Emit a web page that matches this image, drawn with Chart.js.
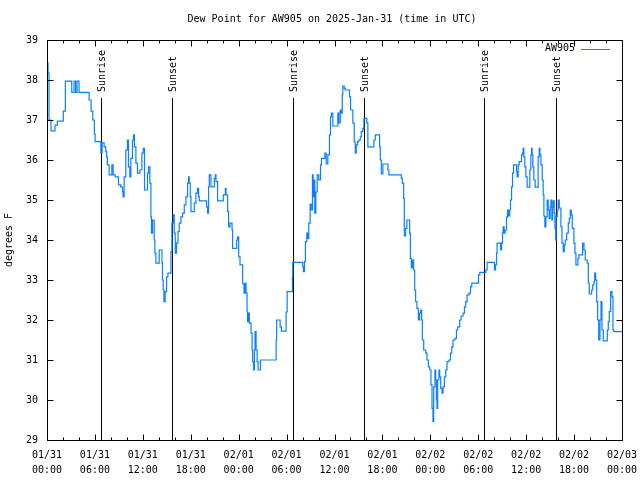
<!DOCTYPE html>
<html>
<head>
<meta charset="utf-8">
<script src="https://cdn.jsdelivr.net/npm/chart.js@4/dist/chart.umd.min.js"></script>
<style>
  html, body { margin: 0; padding: 0; background: #fff; }
</style>
</head>
<body>
<canvas id="myChart" width="640" height="480"></canvas>
<script>
// hours since 2025-01-31 00:00 UTC
const hours = [
    0.00, 0.13, 0.25, 0.50, 1.00, 1.29, 2.04, 2.30, 3.10, 3.39, 3.58, 3.76, 4.01, 5.27, 5.52, 5.73, 5.93, 6.02,
    6.74, 6.90, 7.15, 7.36, 7.46, 7.56, 7.78, 8.12, 8.28, 8.53, 8.95, 9.24, 9.45, 9.53, 9.66, 9.87, 10.07, 10.20,
    10.37, 10.50, 10.70, 10.83, 10.95, 11.13, 11.33, 11.63, 11.88, 12.04, 12.21, 12.58, 12.71, 12.88, 13.01, 13.08,
    13.21, 13.42, 13.51, 13.64, 14.05, 14.39, 14.46, 14.55, 14.64, 14.80, 14.97, 15.14, 15.52, 15.64, 15.81, 15.93,
    16.06, 16.22, 16.40, 16.56, 16.77, 16.97, 17.19, 17.40, 17.60, 17.73, 17.81, 17.94, 18.03, 18.44, 18.65, 18.85,
    18.98, 19.07, 19.98, 20.11, 20.23, 20.32, 20.53, 20.95, 21.07, 21.16, 21.36, 22.08, 22.33, 22.42, 22.62, 22.74,
    22.92, 23.17, 23.24, 23.75, 23.87, 24.00, 24.17, 24.50, 24.67, 24.80, 24.92, 25.05, 25.12, 25.25, 25.34, 25.55,
    25.68, 25.75, 25.88, 25.97, 26.05, 26.18, 26.31, 26.43, 26.72, 28.69, 28.76, 29.19, 29.35, 29.94, 30.07, 30.73,
    30.77, 32.03, 32.11, 32.24, 32.36, 32.53, 32.65, 32.78, 32.95, 33.08, 33.24, 33.33, 33.41, 33.53, 33.66, 33.83,
    34.03, 34.25, 34.37, 34.75, 34.79, 34.96, 35.16, 35.37, 35.50, 35.62, 35.79, 36.21, 36.42, 36.54, 36.72, 36.84,
    36.97, 37.04, 37.22, 37.34, 37.88, 38.01, 38.30, 38.47, 38.60, 38.72, 38.89, 39.05, 39.23, 39.35, 39.55, 39.68,
    40.05, 40.18, 40.93, 41.11, 41.65, 41.73, 41.86, 42.06, 42.69, 42.81, 44.37, 44.49, 44.66, 44.74, 44.91, 45.07,
    45.41, 45.50, 45.62, 45.75, 45.91, 46.04, 46.16, 46.32, 46.50, 46.66, 46.79, 46.91, 47.00, 47.17, 47.42, 47.58,
    47.76, 47.92, 48.08, 48.21, 48.33, 48.42, 48.58, 48.67, 48.76, 48.83, 48.92, 49.08, 49.17, 49.30, 49.46, 49.59,
    49.76, 49.93, 50.09, 50.34, 50.52, 50.68, 50.84, 51.09, 51.27, 51.43, 51.68, 51.85, 52.10, 52.27, 52.43, 52.60,
    52.85, 53.03, 53.19, 54.03, 54.19, 54.95, 55.11, 56.03, 56.16, 56.29, 56.36, 56.79, 56.92, 57.04, 57.12, 57.24,
    57.36, 57.54, 57.66, 57.79, 57.95, 58.04, 58.17, 58.29, 58.42, 58.79, 58.87, 59.00, 59.12, 59.42, 59.55, 59.62,
    59.71, 59.83, 59.96, 60.12, 60.46, 60.59, 60.67, 60.75, 60.84, 60.96, 61.13, 61.50, 61.63, 61.72, 61.84, 62.01,
    62.13, 62.22, 62.34, 62.47, 62.63, 62.76, 62.88, 63.01, 63.10, 63.22, 63.31, 63.39, 63.51, 63.60, 63.69, 63.76,
    63.89, 64.01, 64.14, 64.35, 64.48, 64.64, 64.77, 64.89, 65.07, 65.27, 65.40, 65.52, 65.65, 65.77, 65.98, 66.11,
    66.23, 66.48, 66.61, 67.07, 67.24, 67.40, 67.65, 67.78, 67.90, 68.20, 68.33, 68.49, 68.58, 68.70, 68.83, 68.95,
    69.08, 69.24, 69.37, 69.49, 69.66, 70.16, 70.28, 70.41, 70.58, 70.75, 70.87, 71.00, 72.00
];
const dewPoint = [
    38.43, 38.17, 37.00, 36.73, 36.87, 36.97, 37.22, 37.97, 37.69, 37.97, 37.69, 37.97, 37.69, 37.50, 37.22, 37.00, 36.65, 36.46,
    36.18, 36.43, 36.33, 36.21, 36.08, 35.88, 35.63, 35.88, 35.63, 35.58, 35.38, 35.33, 35.21, 35.08, 35.58, 36.25, 36.50, 35.83,
    35.58, 36.04, 36.50, 36.63, 36.33, 35.92, 35.67, 35.75, 36.17, 36.29, 35.25, 35.67, 35.83, 35.42, 34.58, 34.17,
    34.50, 34.00, 33.67, 33.42, 33.75, 33.42, 33.00, 32.75, 32.46, 32.71, 33.08, 33.17, 33.71, 34.42, 34.63, 34.17,
    33.67, 33.92, 34.21, 34.42, 34.58, 34.67, 34.88, 35.08, 35.42, 35.58, 35.42, 35.08, 34.71, 34.92, 35.17, 35.29,
    35.08, 34.98, 34.83, 34.67, 35.33, 35.63, 35.33, 35.54, 35.63, 35.46, 34.98, 35.13, 35.29, 35.13, 34.71, 34.33,
    34.42, 34.25, 33.79, 34.00, 34.08, 33.58, 33.38, 32.90, 32.67, 32.92, 32.67, 32.20, 31.96, 32.17, 31.92, 31.67,
    31.25, 30.96, 30.75, 31.25, 31.71, 31.25, 30.96, 30.75, 31.00, 31.50, 32.00, 31.83, 31.72, 32.20, 32.71, 33.08,
    33.44, 33.33, 33.21, 33.46, 33.96, 34.17, 34.04, 34.42, 34.90, 34.75, 35.63, 35.08, 35.50, 34.67, 35.20, 35.63,
    35.50, 35.88, 36.04, 36.04, 36.17, 35.90, 36.13, 36.63, 37.08, 37.17, 36.85, 36.85, 37.17, 36.93, 37.25, 37.17,
    37.63, 37.85, 37.79, 37.75, 37.58, 37.25, 36.92, 36.45, 36.17, 36.38, 36.46, 36.50, 36.58, 36.71, 36.79, 37.04,
    36.92, 36.33, 36.50, 36.63, 36.33, 36.00, 35.65, 35.90, 35.75, 35.63, 35.54, 35.42, 35.04, 34.10, 34.29, 34.50,
    34.17, 33.54, 33.30, 33.50, 33.25, 32.75, 32.46, 32.29, 32.00, 32.17, 32.25, 32.00, 31.50, 31.25, 31.17, 31.00,
    30.83, 30.75, 30.38, 29.79, 29.46, 30.33, 30.75, 30.50, 30.00, 29.79, 30.50, 30.75, 30.58, 30.29, 30.17, 30.33,
    30.58, 30.75, 30.96, 31.00, 31.17, 31.33, 31.50, 31.54, 31.75, 31.83, 32.00, 32.10, 32.17, 32.33, 32.46, 32.63,
    32.67, 32.83, 32.92, 33.13, 33.19, 33.25, 33.44, 33.25, 33.38, 33.67, 33.92, 33.75, 33.92, 34.17, 34.33, 34.17,
    34.25, 34.57, 34.75, 34.60, 34.75, 35.00, 35.33, 35.67, 35.88, 35.71, 35.58, 35.88, 35.96, 36.13, 36.18, 36.29,
    36.08, 35.83, 35.58, 35.32, 35.75, 36.13, 36.29, 36.13, 35.83, 35.50, 35.32, 36.08, 36.29, 36.13, 35.88, 35.50,
    35.13, 34.60, 34.33, 34.58, 35.00, 34.75, 34.54, 34.83, 35.00, 34.50, 34.83, 34.98, 34.67, 34.29, 34.00, 34.58,
    34.75, 35.00, 34.80, 34.33, 33.92, 33.71, 33.88, 34.00, 34.17, 34.42, 34.54, 34.75, 34.63, 34.29, 33.92, 33.67,
    33.38, 33.54, 33.63, 33.92, 33.75, 33.50, 33.42, 32.92, 32.65, 32.75, 32.88, 32.96, 33.17, 33.00, 32.46, 32.00,
    31.50, 32.00, 32.46, 31.75, 31.48, 31.75, 31.96, 32.21, 32.71, 32.58, 31.75, 31.71, 31.71
];

const sunTimes = [6.74, 15.59, 30.77, 39.68, 54.78, 63.76];
const sunLabels = ['Sunrise', 'Sunset', 'Sunrise', 'Sunset', 'Sunrise', 'Sunset'];

const xTickLabels = [
    ['01/31', '00:00'], ['01/31', '06:00'], ['01/31', '12:00'], ['01/31', '18:00'],
    ['02/01', '00:00'], ['02/01', '06:00'], ['02/01', '12:00'], ['02/01', '18:00'],
    ['02/02', '00:00'], ['02/02', '06:00'], ['02/02', '12:00'], ['02/02', '18:00'],
    ['02/03', '00:00']
];

const FONT = '"DejaVu Sans Mono", "Liberation Mono", monospace';
const LINE_COLOR = '#0a80ff';

const gnuplotDecor = {
    id: 'gnuplotDecor',
    beforeDatasetsDraw(chart) {
        const { ctx, chartArea: a, scales: { x, y } } = chart;
        ctx.save();
        ctx.strokeStyle = '#000';
        ctx.lineWidth = 1;
        ctx.fillStyle = '#000';
        ctx.font = '10px ' + FONT;
        const top = y.getPixelForValue(37.55);
        sunTimes.forEach((t, i) => {
            const px = Math.round(x.getPixelForValue(t)) + 0.5;
            ctx.beginPath();
            ctx.moveTo(px, top);
            ctx.lineTo(px, a.bottom);
            ctx.stroke();
            ctx.save();
            ctx.translate(px + 1, top - 6);
            ctx.rotate(-Math.PI / 2);
            ctx.textAlign = 'left';
            ctx.textBaseline = 'middle';
            ctx.fillText(sunLabels[i], 0, 0);
            ctx.restore();
        });
        ctx.restore();
    },
    afterDraw(chart) {
        const { ctx, chartArea: a, scales: { x, y } } = chart;
        ctx.save();
        ctx.strokeStyle = '#000';
        ctx.lineWidth = 1;
        const L = a.left + 0.5, R = a.right + 0.5, T = a.top + 0.5, B = a.bottom + 0.5;
        ctx.strokeRect(L, T, R - L, B - T);

        ctx.beginPath();
        for (let h = 0; h <= 72; h += 2) {
            const px = Math.round(x.getPixelForValue(h)) + 0.5;
            const len = h % 6 === 0 ? 6 : 3;
            ctx.moveTo(px, B); ctx.lineTo(px, B - len);
            ctx.moveTo(px, T); ctx.lineTo(px, T + len);
        }
        for (let v = 29; v <= 39; v++) {
            const py = Math.round(y.getPixelForValue(v)) + 0.5;
            ctx.moveTo(L, py); ctx.lineTo(L + 6, py);
            ctx.moveTo(R, py); ctx.lineTo(R - 6, py);
        }
        ctx.stroke();

        ctx.fillStyle = '#000';
        ctx.font = '10px ' + FONT;
        ctx.textBaseline = 'middle';
        ctx.textAlign = 'center';
        ctx.fillText('Dew Point for AW905 on 2025-Jan-31 (time in UTC)', 332, 19);

        ctx.save();
        ctx.translate(9, 240);
        ctx.rotate(-Math.PI / 2);
        ctx.fillText('degrees F', 0, 0);
        ctx.restore();

        ctx.textAlign = 'right';
        ctx.fillText('AW905', 575, 48);
        ctx.strokeStyle = LINE_COLOR;
        ctx.beginPath();
        ctx.moveTo(581, 49.5);
        ctx.lineTo(610, 49.5);
        ctx.stroke();
        ctx.restore();
    }
};

new Chart(document.getElementById('myChart').getContext('2d'), {
    type: 'line',
    data: {
        datasets: [{
            label: 'AW905',
            data: hours.map((h, i) => ({ x: h, y: dewPoint[i] })),
            borderColor: LINE_COLOR,
            borderWidth: 1.2,
            pointRadius: 0,
            stepped: true,
            tension: 0
        }]
    },
    options: {
        responsive: false,
        animation: false,
        devicePixelRatio: 1,
        layout: { padding: { top: 40, right: 18, left: 0, bottom: 0 } },
        scales: {
            x: {
                type: 'linear',
                min: 0,
                max: 72,
                grid: { display: false, drawTicks: false },
                border: { display: false },
                ticks: {
                    stepSize: 6,
                    autoSkip: false,
                    maxRotation: 0,
                    padding: 8,
                    color: '#000',
                    font: { family: FONT, size: 10, lineHeight: 1.5 },
                    callback: (v) => xTickLabels[v / 6]
                },
                afterFit(s) {
                    s.height = 40;
                    s.paddingLeft = 0;
                    s.paddingRight = 0;
                }
            },
            y: {
                min: 29,
                max: 39,
                grid: { display: false, drawTicks: false },
                border: { display: false },
                ticks: {
                    stepSize: 1,
                    padding: 9,
                    color: '#000',
                    font: { family: FONT, size: 10 }
                },
                afterFit(s) { s.width = 47; }
            }
        },
        plugins: {
            legend: { display: false },
            tooltip: { enabled: false }
        }
    },
    plugins: [gnuplotDecor]
});
</script>
</body>
</html>
